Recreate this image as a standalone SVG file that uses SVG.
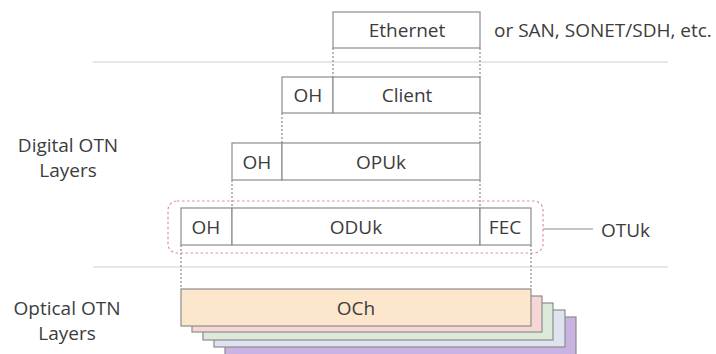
<svg xmlns="http://www.w3.org/2000/svg" width="716" height="354" viewBox="0 0 716 354">
<style>
.box{fill:#fff;stroke:#8c8c8c;stroke-width:1.2}
.t{font-family:"Open Sans","DejaVu Sans",sans-serif;font-size:19px;fill:#3c3c3c;text-anchor:middle;dominant-baseline:central}
.lbl{font-family:"Open Sans","DejaVu Sans",sans-serif;font-size:19px;fill:#3c3c3c;dominant-baseline:central}
.dash{stroke:#8c8c8c;stroke-width:1.2;stroke-dasharray:2,2;fill:none}
.sep{stroke:#cfcfcf;stroke-width:1.2}
.layer{stroke:#8c8c8c;stroke-width:1.2}
</style>
<rect width="716" height="354" fill="#fff"/>
<g id="separators">
<line class="sep" x1="93" y1="62" x2="668" y2="62"/>
<line class="sep" x1="93" y1="267" x2="668" y2="267"/>
</g>
<g id="connectors">
<line class="dash" x1="333" y1="48" x2="333" y2="77"/>
<line class="dash" x1="480" y1="48" x2="480" y2="77"/>
<line class="dash" x1="282" y1="113" x2="282" y2="143"/>
<line class="dash" x1="480" y1="113" x2="480" y2="143"/>
<line class="dash" x1="232" y1="180" x2="232" y2="208"/>
<line class="dash" x1="480" y1="180" x2="480" y2="208"/>
<line class="dash" x1="181" y1="245" x2="181" y2="289"/>
<line class="dash" x1="531" y1="245" x2="531" y2="289"/>
<line x1="543" y1="229" x2="593" y2="229" stroke="#8c8c8c" stroke-width="1.2"/>
</g>
<g id="ethernet">
<rect class="box" x="333" y="12" width="147" height="36"/>
<text class="t" x="407" y="30">Ethernet</text>
</g>
<text id="note" class="lbl" x="494" y="30">or SAN, SONET/SDH, etc.</text>
<g id="client">
<rect class="box" x="282" y="77" width="51" height="36"/>
<rect class="box" x="333" y="77" width="147" height="36"/>
<text class="t" x="308" y="95">OH</text>
<text class="t" x="407" y="95">Client</text>
</g>
<g id="opuk">
<rect class="box" x="232" y="143" width="50" height="37"/>
<rect class="box" x="282" y="143" width="198" height="37"/>
<text class="t" x="257" y="162">OH</text>
<text class="t" x="381" y="162">OPUk</text>
</g>
<g id="oduk">
<rect class="box" x="181" y="208" width="51" height="37"/>
<rect class="box" x="232" y="208" width="248" height="37"/>
<rect class="box" x="480" y="208" width="51" height="37"/>
<text class="t" x="206" y="227">OH</text>
<text class="t" x="356" y="227">ODUk</text>
<text class="t" x="505" y="227">FEC</text>
</g>
<g id="otuk">
<rect x="168" y="201" width="375" height="52" rx="9" fill="none" stroke="#e0909a" stroke-width="1.2" stroke-dasharray="2.5,2.5"/>
<text class="lbl" x="601" y="230">OTUk</text>
</g>
<g id="och">
<rect class="layer" x="225" y="317" width="351" height="40" fill="#c9b3e2"/>
<rect class="layer" x="214" y="310" width="351" height="37" fill="#dfe3f0"/>
<rect class="layer" x="203" y="303" width="350" height="37" fill="#dcebd9"/>
<rect class="layer" x="192" y="296" width="350" height="36" fill="#f7d6d6"/>
<rect class="layer" x="181" y="289" width="350" height="37" fill="#fce6cc"/>
<text class="t" x="356" y="308">OCh</text>
</g>
<g id="labels">
<text class="t" x="68" y="145">Digital OTN</text>
<text class="t" x="68" y="170">Layers</text>
<text class="t" x="67" y="308">Optical OTN</text>
<text class="t" x="67" y="333">Layers</text>
</g>
</svg>
